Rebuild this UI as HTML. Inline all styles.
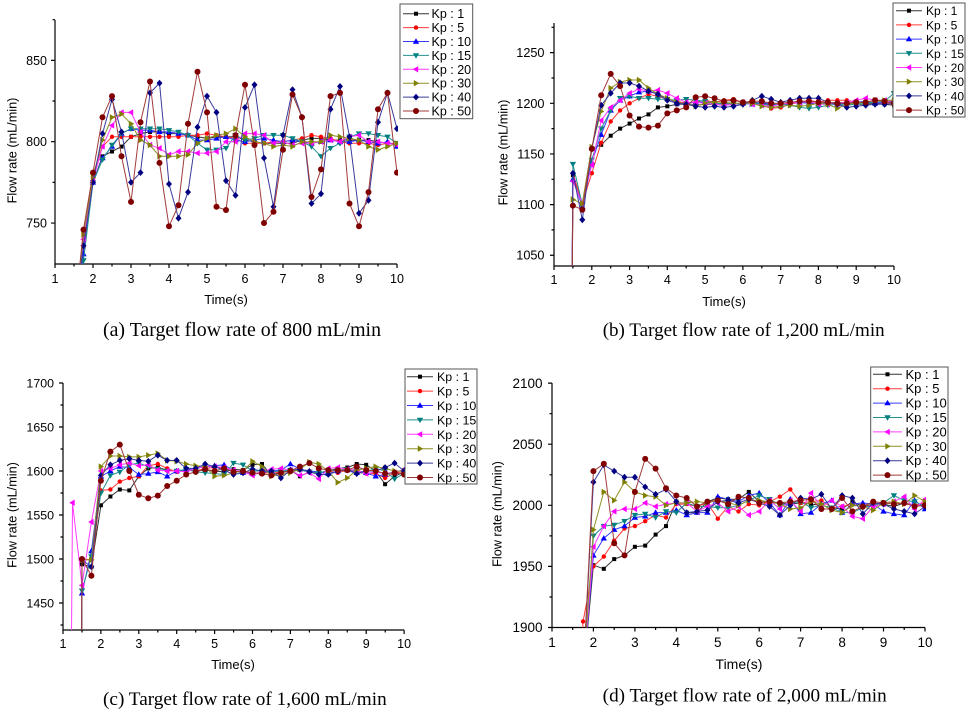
<!DOCTYPE html>
<html><head><meta charset="utf-8"><style>
html,body{margin:0;padding:0;background:#fff;}
svg{display:block;}
text{font-family:"Liberation Sans",Arial,sans-serif;fill:#000;}
.cap{font-family:"Liberation Serif","Times New Roman",serif;}
</style></head><body>
<svg id="s" width="971" height="712" viewBox="0 0 971 712" xmlns="http://www.w3.org/2000/svg">
<rect width="971" height="712" fill="#fff"/>
<defs>
<clipPath id="ca"><rect x="54" y="15" width="344" height="249"/></clipPath>
<clipPath id="cb"><rect x="553" y="15" width="342" height="251"/></clipPath>
<clipPath id="cc"><rect x="62" y="375" width="343" height="255"/></clipPath>
<clipPath id="cd"><rect x="551" y="375" width="375" height="252.5"/></clipPath>
</defs>

<!-- ===== Panel (a) axes ===== -->
<g stroke="#000" stroke-width="1.2" fill="none">
<path d="M55,20V264H397"/>
<path d="M55,264v4M93,264v4M131,264v4M169,264v4M207,264v4M245,264v4M283,264v4M321,264v4M359,264v4M397,264v4"/>
<path d="M74,264v2.5M112,264v2.5M150,264v2.5M188,264v2.5M226,264v2.5M264,264v2.5M302,264v2.5M340,264v2.5M378,264v2.5"/>
<path d="M55,60.35h-4M55,141.7h-4M55,223.05h-4"/>
<path d="M55,19.7h-2.5M55,101h-2.5M55,182.4h-2.5"/>
</g>
<g font-size="12.5" text-anchor="middle">
<text x="55" y="283">1</text><text x="93" y="283">2</text><text x="131" y="283">3</text><text x="169" y="283">4</text><text x="207" y="283">5</text><text x="245" y="283">6</text><text x="283" y="283">7</text><text x="321" y="283">8</text><text x="359" y="283">9</text><text x="397" y="283">10</text>
</g>
<g font-size="12.5" text-anchor="end">
<text x="47" y="64.8">850</text><text x="47" y="146.2">800</text><text x="47" y="227.5">750</text>
</g>
<text x="226" y="304" font-size="13" text-anchor="middle">Time(s)</text>
<text transform="translate(16.5,150.5) rotate(-90)" font-size="12.7" text-anchor="middle">Flow rate (mL/min)</text>

<!-- ===== Panel (b) axes ===== -->
<g stroke="#000" stroke-width="1.2" fill="none">
<path d="M554,23V266H894"/>
<path d="M554,266v4M591.8,266v4M629.6,266v4M667.3,266v4M705.1,266v4M742.9,266v4M780.7,266v4M818.4,266v4M856.2,266v4M894,266v4"/>
<path d="M572.9,266v2.5M610.7,266v2.5M648.4,266v2.5M686.2,266v2.5M724,266v2.5M761.8,266v2.5M799.6,266v2.5M837.3,266v2.5M875.1,266v2.5"/>
<path d="M554,52.65h-4M554,103.3h-4M554,153.95h-4M554,204.6h-4M554,255.25h-4"/>
<path d="M554,27.3h-2.5M554,78h-2.5M554,128.6h-2.5M554,179.3h-2.5M554,229.9h-2.5"/>
</g>
<g font-size="12.5" text-anchor="middle">
<text x="554" y="284">1</text><text x="591.8" y="284">2</text><text x="629.6" y="284">3</text><text x="667.3" y="284">4</text><text x="705.1" y="284">5</text><text x="742.9" y="284">6</text><text x="780.7" y="284">7</text><text x="818.4" y="284">8</text><text x="856.2" y="284">9</text><text x="894" y="284">10</text>
</g>
<g font-size="12.7" text-anchor="end">
<text x="544.5" y="57.1">1250</text><text x="544.5" y="107.8">1200</text><text x="544.5" y="158.4">1150</text><text x="544.5" y="209.1">1100</text><text x="544.5" y="259.7">1050</text>
</g>
<text x="724" y="306" font-size="13" text-anchor="middle">Time(s)</text>
<text transform="translate(507.5,152.5) rotate(-90)" font-size="12.7" text-anchor="middle">Flow rate (mL/min)</text>

<!-- ===== Panel (c) axes ===== -->
<g stroke="#000" stroke-width="1.2" fill="none">
<path d="M63,383V630H404.1"/>
<path d="M63,630v4M100.9,630v4M138.8,630v4M176.7,630v4M214.6,630v4M252.5,630v4M290.4,630v4M328.3,630v4M366.2,630v4M404.1,630v4"/>
<path d="M82,630v2.5M119.9,630v2.5M157.8,630v2.5M195.7,630v2.5M233.6,630v2.5M271.5,630v2.5M309.4,630v2.5M347.3,630v2.5M385.2,630v2.5"/>
<path d="M63,383h-4M63,427h-4M63,471h-4M63,515h-4M63,559h-4M63,603h-4"/>
<path d="M63,405h-2.5M63,449h-2.5M63,493h-2.5M63,537h-2.5M63,581h-2.5M63,625h-2.5"/>
</g>
<g font-size="12.5" text-anchor="middle">
<text x="63" y="648">1</text><text x="100.9" y="648">2</text><text x="138.8" y="648">3</text><text x="176.7" y="648">4</text><text x="214.6" y="648">5</text><text x="252.5" y="648">6</text><text x="290.4" y="648">7</text><text x="328.3" y="648">8</text><text x="366.2" y="648">9</text><text x="404.1" y="648">10</text>
</g>
<g font-size="12.4" text-anchor="end">
<text x="54" y="387.5">1700</text><text x="54" y="431.5">1650</text><text x="54" y="475.5">1600</text><text x="54" y="519.5">1550</text><text x="54" y="563.5">1500</text><text x="54" y="607.5">1450</text>
</g>
<text x="233" y="669" font-size="13" text-anchor="middle">Time(s)</text>
<text transform="translate(16.5,515) rotate(-90)" font-size="12.7" text-anchor="middle">Flow rate (mL/min)</text>

<!-- ===== Panel (d) axes ===== -->
<g stroke="#000" stroke-width="1.2" fill="none">
<path d="M552,383V627.5H925"/>
<path d="M552,627.5v4M593.4,627.5v4M634.9,627.5v4M676.3,627.5v4M717.8,627.5v4M759.2,627.5v4M800.6,627.5v4M842.1,627.5v4M883.5,627.5v4M925,627.5v4"/>
<path d="M572.7,627.5v2.5M614.2,627.5v2.5M655.6,627.5v2.5M697,627.5v2.5M738.5,627.5v2.5M779.9,627.5v2.5M821.4,627.5v2.5M862.8,627.5v2.5M904.2,627.5v2.5"/>
<path d="M552,383.1h-4M552,444.2h-4M552,505.3h-4M552,566.4h-4M552,627.5h-4"/>
<path d="M552,413.7h-2.5M552,474.8h-2.5M552,535.9h-2.5M552,597h-2.5"/>
</g>
<g font-size="13.5" text-anchor="middle">
<text x="552" y="647">1</text><text x="593.4" y="647">2</text><text x="634.9" y="647">3</text><text x="676.3" y="647">4</text><text x="717.8" y="647">5</text><text x="759.2" y="647">6</text><text x="800.6" y="647">7</text><text x="842.1" y="647">8</text><text x="883.5" y="647">9</text><text x="925" y="647">10</text>
</g>
<g font-size="13.5" text-anchor="end">
<text x="542.5" y="388">2100</text><text x="542.5" y="449">2050</text><text x="542.5" y="510">2000</text><text x="542.5" y="571">1950</text><text x="542.5" y="632">1900</text>
</g>
<text x="739" y="669" font-size="14" text-anchor="middle">Time(s)</text>
<text transform="translate(501.5,514) rotate(-90)" font-size="12.7" text-anchor="middle">Flow rate (mL/min)</text>

<!-- data layers -->
<g id="da" clip-path="url(#ca)"></g>
<g id="db" clip-path="url(#cb)"></g>
<g id="dc" clip-path="url(#cc)"></g>
<g id="dd" clip-path="url(#cd)"></g>

<!-- legends -->
<rect x="400" y="4" width="72.7" height="114.7" fill="#fff" stroke="#555" stroke-width="1"/>
<rect x="893" y="3" width="72" height="114" fill="#fff" stroke="#555" stroke-width="1"/>
<rect x="405" y="369" width="72" height="115" fill="#fff" stroke="#555" stroke-width="1"/>
<rect x="870.7" y="367" width="77.3" height="114" fill="#fff" stroke="#555" stroke-width="1"/>
<g id="lg"></g>
<g font-size="12.5">
<text x="431.5" y="18.2">Kp : 1</text><text x="431.5" y="32.1">Kp : 5</text><text x="431.5" y="46">Kp : 10</text><text x="431.5" y="59.9">Kp : 15</text><text x="431.5" y="73.8">Kp : 20</text><text x="431.5" y="87.7">Kp : 30</text><text x="431.5" y="101.6">Kp : 40</text><text x="431.5" y="115.5">Kp : 50</text>
</g>
<g font-size="12">
<text x="926" y="15.2">Kp : 1</text><text x="926" y="29.4">Kp : 5</text><text x="926" y="43.6">Kp : 10</text><text x="926" y="57.8">Kp : 15</text><text x="926" y="72">Kp : 20</text><text x="926" y="86.2">Kp : 30</text><text x="926" y="100.4">Kp : 40</text><text x="926" y="114.6">Kp : 50</text>
</g>
<g font-size="12.4">
<text x="437" y="381.2">Kp : 1</text><text x="437" y="395.6">Kp : 5</text><text x="437" y="410">Kp : 10</text><text x="437" y="424.4">Kp : 15</text><text x="437" y="438.8">Kp : 20</text><text x="437" y="453.2">Kp : 30</text><text x="437" y="467.6">Kp : 40</text><text x="437" y="482">Kp : 50</text>
</g>
<g font-size="13">
<text x="905.5" y="378.8">Kp : 1</text><text x="905.5" y="393.2">Kp : 5</text><text x="905.5" y="407.6">Kp : 10</text><text x="905.5" y="422">Kp : 15</text><text x="905.5" y="436.4">Kp : 20</text><text x="905.5" y="450.8">Kp : 30</text><text x="905.5" y="465.2">Kp : 40</text><text x="905.5" y="479.6">Kp : 50</text>
</g>

<!-- captions -->
<text class="cap" x="103" y="336" font-size="19.5" textLength="278" lengthAdjust="spacingAndGlyphs">(a) Target flow rate of 800 mL/min</text>
<text class="cap" x="602.7" y="336" font-size="19" textLength="282" lengthAdjust="spacingAndGlyphs">(b) Target flow rate of 1,200 mL/min</text>
<text class="cap" x="103" y="705" font-size="19" textLength="283.7" lengthAdjust="spacingAndGlyphs">(c) Target flow rate of 1,600 mL/min</text>
<text class="cap" x="602.7" y="701.7" font-size="19" textLength="284" lengthAdjust="spacingAndGlyphs">(d) Target flow rate of 2,000 mL/min</text>
</svg>
<script>
(function(){
var MC=['#000000','#ff0000','#0000ff','#008080','#ff00ff','#808000','#000080','#800000'];
var LC=['#333333','#ff3a3a','#3a3aff','#259090','#ff3aff','#909025','#3a3a9c','#a03a3a'];
function poly(p,c){return '<polygon points="'+p.map(function(q){return q[0].toFixed(1)+','+q[1].toFixed(1);}).join(' ')+'" fill="'+c+'"/>';}
function mk(x,y,m){
  var c=MC[m];
  switch(m){
    case 0: return '<rect x="'+(x-2).toFixed(1)+'" y="'+(y-2).toFixed(1)+'" width="4" height="4" fill="'+c+'"/>';
    case 1: return '<circle cx="'+x.toFixed(1)+'" cy="'+y.toFixed(1)+'" r="2.2" fill="'+c+'"/>';
    case 2: return poly([[x,y-3.2],[x+3.2,y+2.2],[x-3.2,y+2.2]],c);
    case 3: return poly([[x,y+3.2],[x+3.2,y-2.2],[x-3.2,y-2.2]],c);
    case 4: return poly([[x-3.2,y],[x+2.2,y-3.2],[x+2.2,y+3.2]],c);
    case 5: return poly([[x+3.2,y],[x-2.2,y-3.2],[x-2.2,y+3.2]],c);
    case 6: return poly([[x,y-3.4],[x+3,y],[x,y+3.4],[x-3,y]],c);
    case 7: return '<circle cx="'+x.toFixed(1)+'" cy="'+y.toFixed(1)+'" r="3" fill="'+c+'"/>';
  }
}
var P=[
 {id:'da',X0:55,sx:38,V0:800,Y0:141.7,sy:1.627,t0:1.75,pre:[1.5,690],S:[
  [735,775,791,794,797,803,805,806,806,805,805,804,803,802,803,803,803,801,800,799,799,799,799,801,802,802,801,801,801,801,801,800,799,798],
  [735,780,797,803,803,803,803,803,803,803,803,804,804,805,804,803,802,799,799,799,800,800,801,802,804,803,802,800,799,799,799,798,799,799],
  [731,775,790,797,805,808,807,807,806,806,805,804,801,801,802,803,801,800,801,802,801,800,801,800,799,800,801,800,800,801,800,799,800,797],
  [727,775,789,798,805,808,808,808,808,807,806,804,799,795,795,796,804,801,802,804,804,804,802,800,797,791,796,799,803,805,805,804,803,799],
  [740,776,797,810,818,818,806,798,796,792,794,794,793,793,794,800,800,805,805,804,799,800,798,799,799,800,801,800,803,804,800,800,799,798],
  [743,778,801,815,817,811,801,798,791,791,791,792,799,802,804,805,808,803,800,799,797,798,797,800,800,800,804,803,802,801,797,795,797,799],
  [736,775,805,826,806,775,781,830,836,774,753,769,809,828,818,776,767,821,835,790,760,804,832,815,762,768,820,834,803,756,764,812,830,808],
  [746,781,815,828,791,763,812,837,787,748,761,811,843,818,760,758,804,835,798,750,757,795,829,815,766,783,828,830,762,748,769,820,830,781]
 ]},
 {id:'db',X0:554,sx:37.78,V0:1200,Y0:103.3,sy:1.013,t0:1.5,pre:[1.48,1020],S:[
  [1129,1101,1155,1159,1168,1175,1180,1185,1189,1196,1197,1199,1199,1198,1199,1199,1200,1199,1200,1201,1200,1199,1199,1200,1201,1200,1199,1200,1201,1200,1199,1199,1200,1199,1198],
  [1131,1101,1131,1161,1182,1193,1200,1205,1209,1207,1204,1202,1200,1201,1203,1201,1203,1204,1201,1201,1198,1195,1196,1199,1201,1203,1201,1203,1203,1203,1201,1201,1201,1200,1201],
  [1125,1098,1142,1169,1193,1203,1207,1211,1212,1209,1205,1200,1200,1201,1201,1199,1198,1199,1200,1199,1201,1199,1198,1200,1201,1200,1199,1201,1199,1200,1201,1202,1200,1201,1202],
  [1140,1100,1144,1175,1193,1205,1207,1205,1205,1204,1204,1203,1204,1203,1202,1200,1199,1200,1199,1200,1199,1198,1199,1198,1196,1195,1196,1198,1199,1198,1199,1200,1201,1202,1210],
  [1123,1101,1139,1183,1196,1203,1210,1214,1212,1213,1210,1205,1201,1201,1200,1199,1198,1199,1201,1199,1198,1197,1199,1200,1201,1202,1199,1199,1200,1201,1203,1205,1203,1203,1202],
  [1105,1101,1157,1192,1215,1221,1223,1223,1215,1209,1205,1201,1199,1197,1200,1201,1201,1200,1200,1200,1197,1196,1197,1198,1197,1198,1200,1199,1195,1199,1200,1201,1203,1203,1203],
  [1131,1085,1155,1198,1210,1220,1220,1217,1212,1209,1203,1200,1199,1197,1196,1197,1196,1197,1199,1203,1207,1204,1201,1203,1205,1205,1205,1201,1199,1196,1197,1198,1199,1199,1200],
  [1099,1095,1155,1208,1229,1217,1188,1177,1176,1178,1190,1193,1196,1206,1207,1205,1202,1203,1201,1202,1202,1200,1200,1201,1202,1202,1201,1201,1200,1200,1201,1201,1203,1202,1200]
 ]},
 {id:'dc',X0:63,sx:37.9,V0:1600,Y0:471,sy:0.88,t0:1.5,pre:[1.49,1380],ov:{4:{t0:1.25,pre:[1.22,1380]}},S:[
  [1494,1491,1561,1571,1579,1578,1594,1603,1604,1601,1600,1601,1600,1601,1600,1599,1602,1601,1607,1608,1595,1599,1601,1594,1599,1598,1600,1603,1604,1608,1607,1600,1585,1594,1599],
  [1500,1499,1578,1579,1588,1592,1594,1606,1608,1603,1599,1602,1600,1603,1604,1603,1600,1599,1597,1597,1599,1598,1600,1601,1600,1598,1600,1598,1601,1599,1597,1597,1592,1598,1599],
  [1461,1509,1594,1600,1605,1604,1596,1597,1599,1594,1600,1601,1603,1605,1606,1607,1600,1598,1597,1598,1600,1601,1608,1602,1600,1599,1597,1600,1601,1598,1598,1594,1596,1599,1601],
  [1464,1503,1575,1595,1599,1607,1609,1605,1602,1600,1600,1602,1599,1598,1597,1596,1609,1607,1600,1600,1599,1600,1601,1601,1599,1598,1600,1601,1602,1600,1599,1603,1600,1591,1597],
  [1564,1470,1542,1600,1603,1607,1609,1606,1607,1601,1600,1600,1599,1603,1605,1605,1604,1601,1599,1595,1600,1602,1603,1601,1595,1598,1591,1603,1604,1602,1601,1597,1599,1597,1598,1602],
  [1499,1499,1605,1617,1617,1616,1616,1618,1620,1612,1611,1608,1606,1605,1594,1595,1598,1600,1611,1605,1594,1596,1598,1602,1610,1608,1600,1587,1592,1601,1603,1605,1603,1600,1600],
  [1499,1491,1595,1607,1612,1614,1612,1611,1618,1612,1612,1603,1603,1608,1605,1601,1596,1598,1602,1600,1600,1592,1601,1602,1599,1596,1596,1600,1601,1597,1600,1600,1604,1609,1600],
  [1500,1481,1589,1622,1630,1600,1573,1569,1572,1583,1589,1596,1599,1602,1600,1603,1599,1600,1598,1597,1595,1598,1600,1605,1609,1603,1601,1601,1601,1605,1601,1600,1597,1598,1596]
 ]},
 {id:'dd',X0:552,sx:41.44,V0:2000,Y0:505.3,sy:1.222,t0:1.75,pre:null,ov:{1:{pre:[1.7,1880]}},S:[
  [1860,1951,1948,1956,1959,1966,1967,1976,1983,2003,1994,1994,2003,2006,2005,2005,2011,2003,2002,2002,2001,2002,2001,2000,1998,1997,2003,1999,2001,2001,1999,2002,2000,2001],
  [1905,1950,1958,1971,1981,1983,1987,1992,1990,2001,2001,1999,2002,1989,1999,1995,2001,2000,2003,2007,2013,2002,2003,2004,1998,1999,2001,1998,2001,2002,2003,2001,2000,2002],
  [1860,1959,1973,1980,1983,1990,1991,1994,1994,1996,1992,1994,1994,2007,2005,2003,2008,2010,2002,1992,2005,1993,1994,2001,2004,1994,2001,2002,2001,1995,1993,1992,2004,1997],
  [1860,1975,1983,1984,1987,1992,1993,1990,1995,1994,2002,1999,1999,1998,1998,2000,2004,2008,2005,2000,2002,2003,1998,2000,1998,1994,1994,1998,2000,2002,2008,2004,2003,1999],
  [1860,1966,1983,1995,1997,1997,2002,1999,2001,2002,2002,1995,1999,2002,1995,1999,1992,1995,2004,1997,2004,1995,2010,1999,2004,1999,1991,1989,1999,2001,2003,2007,1997,2005],
  [1860,1980,2011,2004,2019,2011,2008,2007,2000,2002,2002,2003,2002,2004,2002,2000,2004,2004,2003,2001,1997,1998,2003,2001,1996,1994,2000,1999,1996,2002,2003,2001,2008,2003],
  [1860,2019,2033,2028,2023,2023,2015,2009,2013,2003,1994,1995,1996,2003,2004,2002,2005,2002,1999,1992,2000,2006,2005,2009,1997,2008,2006,1993,2002,2001,1997,1995,1993,1999],
  [1860,2028,2034,1969,1959,2011,2038,2030,2014,2008,2006,1999,2003,2004,2001,2007,2006,2002,2003,2002,2003,2004,2005,1997,1997,2006,1995,1999,2003,2002,2001,2002,1999,2000]
 ]}
];
P.forEach(function(p){
  var h='';
  function X(t){return p.X0+(t-1)*p.sx;}
  function Y(v){return p.Y0-(v-p.V0)*p.sy;}
  p.S.forEach(function(vals,k){
    var o=(p.ov&&p.ov[k])||{};
    var t0=o.t0!==undefined?o.t0:p.t0;
    var pre=o.pre!==undefined?o.pre:p.pre;
    var pts=[];
    if(pre) pts.push([X(pre[0]),Y(pre[1])]);
    var mpts=[];
    vals.forEach(function(v,i){var q=[X(t0+0.25*i),Y(v)];pts.push(q);mpts.push(q);});
    h+='<polyline fill="none" stroke="'+LC[k]+'" stroke-width="1" stroke-linejoin="round" points="'+pts.map(function(q){return q[0].toFixed(1)+','+q[1].toFixed(1);}).join(' ')+'"/>';
    mpts.forEach(function(q){h+=mk(q[0],q[1],k);});
  });
  document.getElementById(p.id).innerHTML=h;
});
var L=[
 {x1:403,x2:429,xm:416,y0:13.7,dy:13.9},
 {x1:896,x2:922,xm:909,y0:10.7,dy:14.2},
 {x1:407,x2:433,xm:420,y0:376.7,dy:14.4},
 {x1:873,x2:902,xm:887.5,y0:374.3,dy:14.4}
];
var g='';
L.forEach(function(l){
  for(var k=0;k<8;k++){
    var y=l.y0+k*l.dy;
    g+='<line x1="'+l.x1+'" x2="'+l.x2+'" y1="'+y.toFixed(1)+'" y2="'+y.toFixed(1)+'" stroke="'+LC[k]+'" stroke-width="1"/>';
    g+=mk(l.xm,y,k);
  }
});
document.getElementById('lg').innerHTML=g;
})();
</script>
</body></html>
